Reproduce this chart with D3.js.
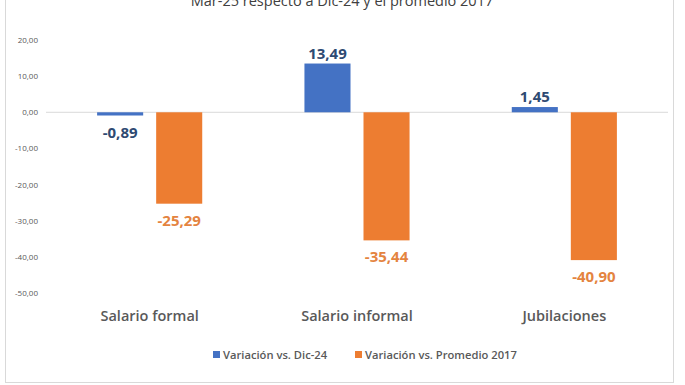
<!DOCTYPE html>
<html>
<head>
<meta charset="utf-8">
<script src="https://cdn.jsdelivr.net/npm/d3@7"></script>
<style>
  html, body { margin: 0; padding: 0; background: #fff; }
  svg { display: block; font-family: "Open Sans", "Noto Sans", sans-serif; }
</style>
</head>
<body>
<svg id="chart" width="685" height="385"></svg>
<script>
const categories = ["Salario formal", "Salario informal", "Jubilaciones"];
const seriesNames = ["Variación vs. Dic-24", "Variación vs. Promedio 2017"];
const dic24 = [-0.89, 13.49, 1.45];
const prom2017 = [-25.29, -35.44, -40.90];
const yTicks = [20, 10, 0, -10, -20, -30, -40, -50];
const titleText = "Mar-25 respecto a Dic-24 y el promedio 2017";

const colors = ["#4472C4", "#ED7D31"];
const labelColors = ["#2E4A72", "#E4843F"];

const svg = d3.select("#chart");
const fmt = v => d3.format(".2f")(v).replace(".", ",").replace("−", "-");

// frame
svg.append("rect").attr("x", 5.5).attr("y", -10).attr("width", 668).attr("height", 392.5)
  .attr("fill", "#fff").attr("stroke", "#D9D9D9").attr("stroke-width", 1);

// title
svg.append("text").attr("x", 342).attr("y", 6).attr("text-anchor", "middle")
  .attr("font-size", 14.5).attr("fill", "#404040").text(titleText);

const y = d3.scaleLinear().domain([-50, 20]).range([293, 40]);
const x0 = d3.scaleBand().domain(categories).range([46, 668]).paddingInner(0.493).paddingOuter(0.2465);
const x1 = d3.scaleBand().domain(seriesNames).range([0, x0.bandwidth()]).paddingInner(0.22).paddingOuter(0);

// y axis labels
const yAxis = d3.axisLeft(y).tickValues(yTicks).tickSize(0).tickPadding(0)
  .tickFormat(d => fmt(d));
const gy = svg.append("g").attr("transform", "translate(38,0)").call(yAxis);
gy.select(".domain").remove();
gy.selectAll("text").attr("font-size", 8).attr("fill", "#595959")
  .attr("font-family", "'Open Sans', sans-serif");

// zero line
svg.append("line").attr("x1", 46).attr("x2", 668).attr("y1", y(0)).attr("y2", y(0))
  .attr("stroke", "#D9D9D9").attr("stroke-width", 1);

const data = categories.map((c, i) => ({ cat: c, vals: [dic24[i], prom2017[i]] }));

const groups = svg.selectAll("g.grp").data(data).join("g").attr("class", "grp")
  .attr("transform", d => `translate(${x0(d.cat)},0)`);

groups.selectAll("rect").data(d => d.vals.map((v, j) => ({ v, j })))
  .join("rect")
  .attr("x", d => x1(seriesNames[d.j]))
  .attr("width", x1.bandwidth())
  .attr("y", d => Math.min(y(d.v), y(0)))
  .attr("height", d => Math.abs(y(d.v) - y(0)))
  .attr("fill", d => colors[d.j]);

groups.selectAll("text.lbl").data(d => d.vals.map((v, j) => ({ v, j })))
  .join("text").attr("class", "lbl")
  .attr("x", d => x1(seriesNames[d.j]) + x1.bandwidth() / 2)
  .attr("y", d => d.v >= 0 ? y(d.v) - 5 : y(d.v) + 22)
  .attr("text-anchor", "middle")
  .attr("font-size", 15).attr("font-weight", 700)
  .attr("fill", d => labelColors[d.j])
  .text(d => fmt(d.v));

// category labels
const xAxis = d3.axisBottom(x0).tickSize(0).tickPadding(0);
const gx = svg.append("g").attr("transform", "translate(0,321)").call(xAxis);
gx.select(".domain").remove();
gx.selectAll("text").attr("dy", 0).attr("font-size", 14.5).attr("font-weight", 600)
  .attr("fill", "#595959").attr("font-family", "'Open Sans', sans-serif");

// legend
const legendX = [213, 355];
const lg = svg.selectAll("g.leg").data(seriesNames).join("g").attr("class", "leg")
  .attr("transform", (d, i) => `translate(${legendX[i]},355)`);
lg.append("rect").attr("x", 0).attr("y", -4).attr("width", 7).attr("height", 7)
  .attr("fill", (d, i) => colors[i]);
lg.append("text").attr("x", 10).attr("y", 4).attr("font-size", 11.2).attr("font-weight", 600)
  .attr("fill", "#595959").text(d => d);
</script>
</body>
</html>
